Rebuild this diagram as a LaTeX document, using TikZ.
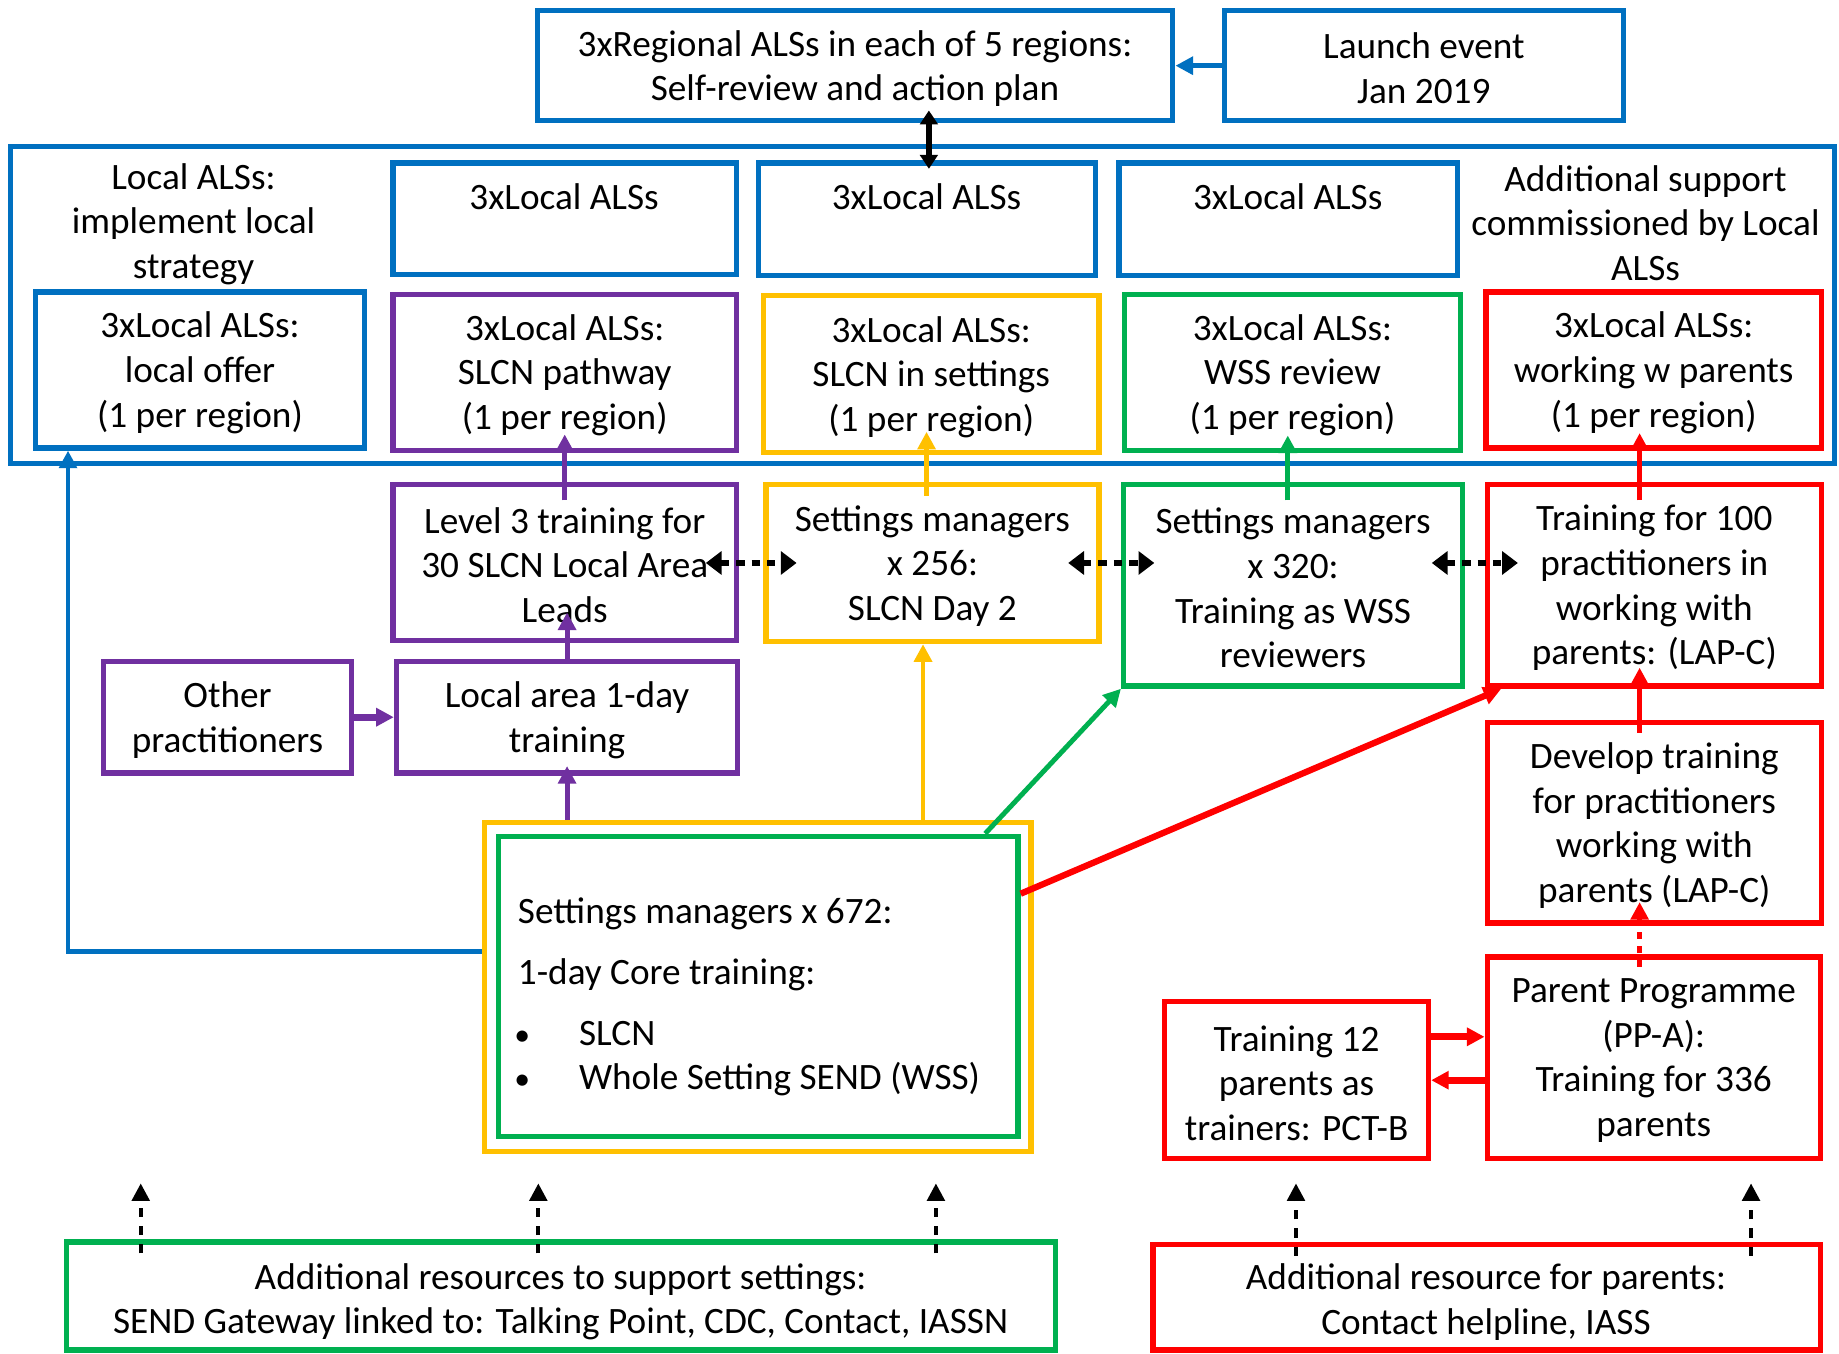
\documentclass[tikz,border=0pt]{standalone}
\usepackage{fontspec}
\setmainfont{Carlito}
\usetikzlibrary{arrows.meta,fit}
\definecolor{alsblue}{HTML}{0070C0}
\definecolor{alspurple}{HTML}{7030A0}
\definecolor{alsyellow}{HTML}{FFC000}
\definecolor{alsgreen}{HTML}{00B050}
\definecolor{alsred}{HTML}{FF0000}
\begin{document}
\begin{tikzpicture}[x=0.011728cm, y=-0.011728cm,
		>={Triangle[length=5pt,width=5pt]},
		every node/.style={font=\fontsize{10.6}{12.7}\selectfont, align=center, inner sep=0pt},
		box/.style={draw, line width=1.5pt},
		intext/.style={yshift=-0.8pt},
		link/.style={->, line width=1.4pt},
		sidelink/.style={<->, line width=1.7pt, dash pattern=on 2.4pt off 2pt, >={Triangle[length=4.5pt,width=6.5pt]}, shorten <=-9.5pt, shorten >=-9.5pt},
		feed/.style={->, line width=1.1pt, dash pattern=on 2.6pt off 2.6pt, >={Triangle[length=5pt,width=5pt]}, shorten <=-4pt}]
		\newcommand{\alsbullet}[1]{\hspace*{-1pt}\makebox[18.4pt][l]{\small\textbullet}#1}
		\useasboundingbox (0,0) rectangle (1568,1154);
		%Top row
		\coordinate (regional1) at (458,9);
		\coordinate (regional2) at (1000,103);
		\coordinate (launch1) at (1044,9);
		\coordinate (launch2) at (1384,103);
		\node [box, alsblue, fit=(regional1)(regional2)] (regional) {};
		\node [box, alsblue, fit=(launch1)(launch2)] (launch) {};
		\node [intext] (regionaltext) at (regional.center) {3xRegional ALSs in each of 5 regions:\\Self-review and action plan};
		\node [intext] (launchtext) at (launch.center) {Launch event\\Jan 2019};
		%Outer hull of the local ALSs
		\coordinate (container1) at (9,125);
		\coordinate (container2) at (1564,395);
		\node [box, alsblue, fit=(container1)(container2)] (container) {};
		\node [] (localstrat) at (165,191) {Local ALSs:\\implement local\\strategy};
		\node [] (addsupport) at (1403,190) {Additional support\\commissioned by Local\\ALSs};
		%3xLocal ALSs boxes
		\coordinate (locala1) at (335,139);
		\coordinate (locala2) at (628,234);
		\coordinate (localb1) at (647,139);
		\coordinate (localb2) at (934,235);
		\coordinate (localc1) at (954,139);
		\coordinate (localc2) at (1243,235);
		\node [box, alsblue, fit=(locala1)(locala2)] (locala) {};
		\node [box, alsblue, fit=(localb1)(localb2)] (localb) {};
		\node [box, alsblue, fit=(localc1)(localc2)] (localc) {};
		\node [] (localatext) at (481,168) {3xLocal ALSs};
		\node [] (localbtext) at (790,168) {3xLocal ALSs};
		\node [] (localctext) at (1098,168) {3xLocal ALSs};
		%Second row, one per region
		\coordinate (offer1) at (30,249);
		\coordinate (offer2) at (311,382);
		\coordinate (pathway1) at (335,251);
		\coordinate (pathway2) at (628,384);
		\coordinate (insettings1) at (651,252);
		\coordinate (insettings2) at (937,386);
		\coordinate (wssreview1) at (959,251);
		\coordinate (wssreview2) at (1245,384);
		\coordinate (withparents1) at (1267,249);
		\coordinate (withparents2) at (1553,382);
		\node [box, alsblue, fit=(offer1)(offer2)] (offer) {};
		\node [box, alspurple, fit=(pathway1)(pathway2)] (pathway) {};
		\node [box, alsyellow, fit=(insettings1)(insettings2)] (insettings) {};
		\node [box, alsgreen, fit=(wssreview1)(wssreview2)] (wssreview) {};
		\node [box, alsred, fit=(withparents1)(withparents2)] (withparents) {};
		\node [intext] (offertext) at (offer.center) {3xLocal ALSs:\\local offer\\(1 per region)};
		\node [intext] (pathwaytext) at (pathway.center) {3xLocal ALSs:\\SLCN pathway\\(1 per region)};
		\node [intext] (insettingstext) at (insettings.center) {3xLocal ALSs:\\SLCN in settings\\(1 per region)};
		\node [intext] (wssreviewtext) at (wssreview.center) {3xLocal ALSs:\\WSS review\\(1 per region)};
		\node [intext] (withparentstext) at (withparents.center) {3xLocal ALSs:\\working w parents\\(1 per region)};
		%Training row
		\coordinate (levelthree1) at (335,413);
		\coordinate (levelthree2) at (628,546);
		\coordinate (daytwo1) at (653,413);
		\coordinate (daytwo2) at (937,547);
		\coordinate (reviewers1) at (958,413);
		\coordinate (reviewers2) at (1247,585);
		\coordinate (hundred1) at (1268,413);
		\coordinate (hundred2) at (1553,585);
		\node [box, alspurple, fit=(levelthree1)(levelthree2)] (levelthree) {};
		\node [box, alsyellow, fit=(daytwo1)(daytwo2)] (daytwo) {};
		\node [box, alsgreen, fit=(reviewers1)(reviewers2)] (reviewers) {};
		\node [box, alsred, fit=(hundred1)(hundred2)] (hundred) {};
		\node [intext] (levelthreetext) at (levelthree.center) {Level 3 training for\\30 SLCN Local Area\\Leads};
		\node [intext] (daytwotext) at (daytwo.center) {Settings managers\\x 256:\\SLCN Day 2};
		\node [intext] (reviewerstext) at (reviewers.center) {Settings managers\\x 320:\\Training as WSS\\reviewers};
		\node [intext] (hundredtext) at (hundred.center) {Training for 100\\practitioners in\\working with\\parents: (LAP-C)};
		%Local area row
		\coordinate (other1) at (88,564);
		\coordinate (other2) at (300,659);
		\coordinate (localarea1) at (338,564);
		\coordinate (localarea2) at (629,659);
		\coordinate (develop1) at (1268,616);
		\coordinate (develop2) at (1553,787);
		\node [box, alspurple, fit=(other1)(other2)] (other) {};
		\node [box, alspurple, fit=(localarea1)(localarea2)] (localarea) {};
		\node [box, alsred, fit=(develop1)(develop2)] (develop) {};
		\node [intext] (othertext) at (other.center) {Other\\practitioners};
		\node [intext] (localareatext) at (localarea.center) {Local area 1-day\\training};
		\node [intext] (developtext) at (develop.center) {Develop training\\for practitioners\\working with\\parents (LAP-C)};
		%Core training
		\coordinate (coreout1) at (413,701);
		\coordinate (coreout2) at (879,982);
		\coordinate (corein1) at (425,713);
		\coordinate (corein2) at (868,969);
		\node [box, alsyellow, fit=(coreout1)(coreout2)] (coreout) {};
		\node [box, alsgreen, fit=(corein1)(corein2)] (corein) {};
		\node [anchor=west, align=left] (coretext) at (441,850) {Settings managers x 672:\\[4.7pt]1-day Core training:\\[4.6pt]\alsbullet{SLCN}\\\alsbullet{Whole Setting SEND (WSS)}};
		%Parents
		\coordinate (twelve1) at (993,854);
		\coordinate (twelve2) at (1218,988);
		\coordinate (parentprog1) at (1268,816);
		\coordinate (parentprog2) at (1552,988);
		\node [box, alsred, fit=(twelve1)(twelve2)] (twelve) {};
		\node [box, alsred, fit=(parentprog1)(parentprog2)] (parentprog) {};
		\node [intext] (twelvetext) at (twelve.center) {Training 12\\parents as\\trainers: PCT-B};
		\node [intext] (parentprogtext) at (parentprog.center) {Parent Programme\\(PP-A):\\Training for 336\\parents};
		%Additional resources
		\coordinate (resgreen1) at (57,1059);
		\coordinate (resgreen2) at (900,1151);
		\coordinate (resred1) at (983,1061);
		\coordinate (resred2) at (1552,1151);
		\node [box, alsgreen, fit=(resgreen1)(resgreen2)] (resgreen) {};
		\node [box, alsred, fit=(resred1)(resred2)] (resred) {};
		\node [] (resgreentext) at (478,1110) {Additional resources to support settings:\\SEND Gateway linked to: Talking Point, CDC, Contact, IASSN};
		\node [] (resredtext) at (1267,1110) {Additional resource for parents:\\Contact helpline, IASS};
		%Blue links
		\draw [link, alsblue] (launch) -- (regional);
		\coordinate (regionx) at (792,0);
		\draw [<->, line width=1.6pt, >={Triangle[length=4pt,width=5pt]}, shorten <=-3.7pt, shorten >=-2.4pt] (regional.south -| regionx) -- (localb.north -| regionx);
		\coordinate (bluebend) at (58,811);
		\draw [link, alsblue] (coreout.west |- bluebend) -- (bluebend) -- (offer.south -| bluebend);
		%Purple links
		\draw [link, alspurple, shorten <=-5.3pt, shorten >=-5.3pt] (levelthree.north) -- (pathway.south);
		\draw [link, alspurple, shorten >=-8.7pt] (localarea.north) -- (levelthree.south -| localarea.north);
		\draw [link, alspurple, line width=1.9pt] (other) -- (localarea);
		\draw [link, alspurple, shorten >=-2.7pt] (coreout.north -| localarea.south) -- (localarea.south);
		%Yellow links
		\coordinate (yellowup) at (787,0);
		\coordinate (yellowtop) at (790,0);
		\draw [link, alsyellow] (coreout.north -| yellowup) -- (daytwo.south -| yellowup);
		\draw [link, alsyellow, shorten <=-4pt, shorten >=-6.7pt] (daytwo.north -| yellowtop) -- (insettings.south -| yellowtop);
		%Green links
		\coordinate (greenstart) at (840,0);
		\coordinate (greenup) at (1098,0);
		\draw [link, alsgreen] (corein.north -| greenstart) -- (reviewers.south west);
		\draw [link, alsgreen, shorten <=-5.3pt, shorten >=-5pt] (reviewers.north -| greenup) -- (wssreview.south -| greenup);
		%Red links
		\coordinate (redstart) at (0,762);
		\coordinate (redend) at (1280,0);
		\coordinate (redup) at (1398,0);
		\draw [link, alsred, line width=1.8pt] (corein.east |- redstart) -- (hundred.south -| redend);
		\draw [link, alsred, shorten <=-5.3pt, shorten >=-5pt] (hundred.north -| redup) -- (withparents.south -| redup);
		\draw [link, alsred, shorten <=-3.7pt, shorten >=-6pt] (develop.north -| redup) -- (hundred.south -| redup);
		\draw [link, alsred, dash pattern=on 2pt off 2pt, shorten <=-3.5pt, shorten >=-6.7pt] (parentprog.north -| redup) -- (develop.south -| redup);
		\coordinate (toparent) at (0,884);
		\coordinate (totwelve) at (0,921);
		\draw [link, alsred, line width=1.9pt] (twelve.east |- toparent) -- (parentprog.west |- toparent);
		\draw [link, alsred, line width=1.9pt] (parentprog.west |- totwelve) -- (twelve.east |- totwelve);
		%Dotted links between the training boxes
		\coordinate (sidey) at (0,480);
		\draw [sidelink] (levelthree.east |- sidey) -- (daytwo.west |- sidey);
		\draw [sidelink] (daytwo.east |- sidey) -- (reviewers.west |- sidey);
		\draw [sidelink] (reviewers.east |- sidey) -- (hundred.west |- sidey);
		%Dashed arrows from the resources
		\foreach \fx in {120,459,798} {
			\coordinate (feedtip\fx) at (\fx,1009);
			\draw [feed] (resgreen.north -| feedtip\fx) -- (feedtip\fx);
		}
		\foreach \fx in {1105,1493} {
			\coordinate (feedtip\fx) at (\fx,1009);
			\draw [feed] (resred.north -| feedtip\fx) -- (feedtip\fx);
		}
\end{tikzpicture}
\end{document}
